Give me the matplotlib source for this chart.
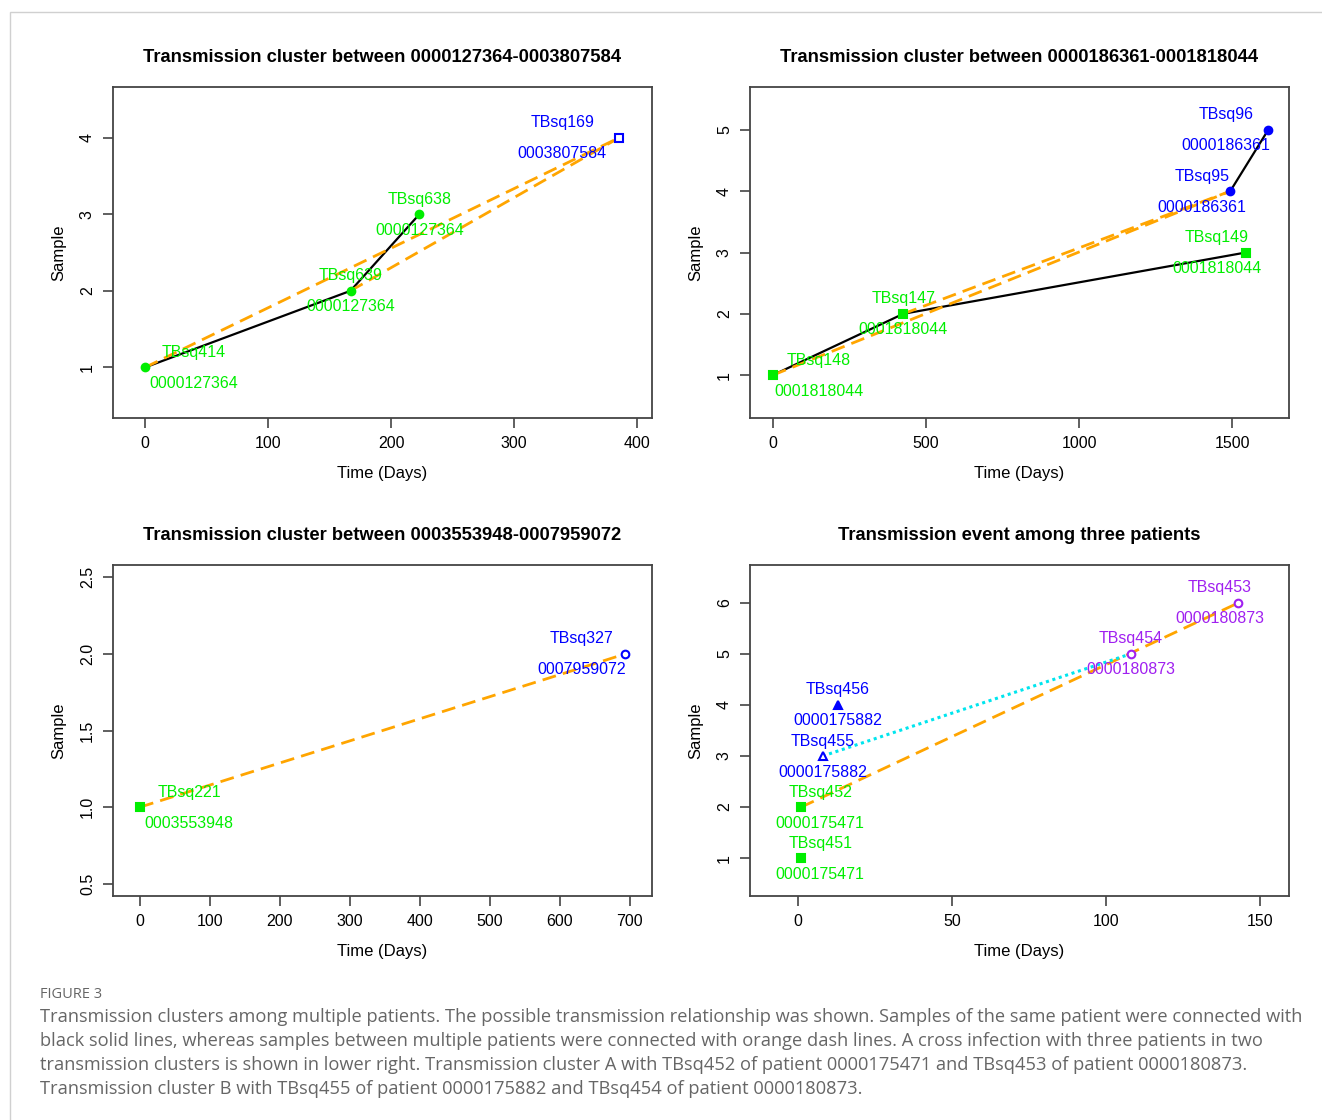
import matplotlib
matplotlib.use("Agg")
import matplotlib.pyplot as plt
from matplotlib.patches import Rectangle

plt.rcParams['font.family'] = ['Liberation Sans', 'DejaVu Sans']

# ---- data ----
# panel A: 0000127364 -> 0003807584
a_days = [0, 167, 223, 385.5]
a_sample = [1, 2, 3, 4]
a_names = ['TBsq414', 'TBsq639', 'TBsq638', 'TBsq169']
a_patients = ['0000127364', '0000127364', '0000127364', '0003807584']
a_solid = [(0, 1), (1, 2)]
a_dashed = [(0, 3), (1, 3)]

# panel B: 0000186361 -> 0001818044
b_days = [0, 426, 1545, 1494, 1618]
b_sample = [1, 2, 3, 4, 5]
b_names = ['TBsq148', 'TBsq147', 'TBsq149', 'TBsq95', 'TBsq96']
b_patients = ['0001818044', '0001818044', '0001818044', '0000186361', '0000186361']
b_solid = [(0, 1), (1, 2), (3, 4)]
b_dashed = [(0, 3), (1, 3)]

# panel C: 0003553948 -> 0007959072
c_days = [0, 694]
c_sample = [1, 2]
c_names = ['TBsq221', 'TBsq327']
c_patients = ['0003553948', '0007959072']
c_solid = []
c_dashed = [(0, 1)]

# panel D: three patients
d_days = [1, 1, 8, 13, 108, 143]
d_sample = [1, 2, 3, 4, 5, 6]
d_names = ['TBsq451', 'TBsq452', 'TBsq455', 'TBsq456', 'TBsq454', 'TBsq453']
d_patients = ['0000175471', '0000175471', '0000175882', '0000175882', '0000180873', '0000180873']
d_solid = []
d_dashed = [(1, 5)]
d_dotted = [(2, 4)]

titles = ['Transmission cluster between 0000127364-0003807584',
          'Transmission cluster between 0000186361-0001818044',
          'Transmission cluster between 0003553948-0007959072',
          'Transmission event among three patients']

caption_lines = [
    "Transmission clusters among multiple patients. The possible transmission relationship was shown. Samples of the same patient were connected with",
    "black solid lines, whereas samples between multiple patients were connected with orange dash lines. A cross infection with three patients in two",
    "transmission clusters is shown in lower right. Transmission cluster A with TBsq452 of patient 0000175471 and TBsq453 of patient 0000180873.",
    "Transmission cluster B with TBsq455 of patient 0000175882 and TBsq454 of patient 0000180873.",
]

GREEN = '#00ee00'
BLUE = '#0000ff'
PURPLE = '#a020f0'
ORANGE = '#ffa500'

# styling per point: (colour, marker, filled), label x shift in pixels
a_style = [(GREEN, 'o', True)] * 3 + [(BLUE, 's', False)]
a_shift = [49, 0, 0, -57]
b_style = [(GREEN, 's', True)] * 3 + [(BLUE, 'o', True)] * 2
b_shift = [46, 0, -29, -28, -42]
c_style = [(GREEN, 's', True), (BLUE, 'o', False)]
c_shift = [49, -44]
d_style = [(GREEN, 's', True), (GREEN, 's', True), (BLUE, '^', False), (BLUE, '^', True),
           (PURPLE, 'o', False), (PURPLE, 'o', False)]
d_shift = [19, 19, 0, 0, 0, -19]

fig = plt.figure(figsize=(13.22, 11.2), dpi=100)

W, H = 1322, 1120
def box(l, t, r, b):
    return [l / W, 1 - b / H, (r - l) / W, (b - t) / H]

panels = [
    (box(113, 87, 652, 418), a_days, a_sample, a_names, a_patients, a_solid, a_dashed, [], a_style, a_shift,
     (-26, 412), (0.34, 4.66), [0, 100, 200, 300, 400], [1, 2, 3, 4]),
    (box(750, 87, 1289, 418), b_days, b_sample, b_names, b_patients, b_solid, b_dashed, [], b_style, b_shift,
     (-75, 1686), (0.3, 5.7), [0, 500, 1000, 1500], [1, 2, 3, 4, 5]),
    (box(113, 565, 652, 896), c_days, c_sample, c_names, c_patients, c_solid, c_dashed, [], c_style, c_shift,
     (-38.6, 732), (0.42, 2.58), [0, 100, 200, 300, 400, 500, 600, 700], [0.5, 1.0, 1.5, 2.0, 2.5]),
    (box(750, 565, 1289, 896), d_days, d_sample, d_names, d_patients, d_solid, d_dashed, d_dotted, d_style, d_shift,
     (-15.6, 159.4), (0.26, 6.74), [0, 50, 100, 150], [1, 2, 3, 4, 5, 6]),
]

for i, (rect, xs, ys, names, pats, solid, dashed, dotted, style, shift, xl, yl, xt, yt) in enumerate(panels):
    ax = fig.add_axes(rect)
    for s in ax.spines.values():
        s.set_color('#444444')
        s.set_linewidth(1.3)
    for p, q in solid:
        ax.plot([xs[p], xs[q]], [ys[p], ys[q]], color='black', lw=1.6, zorder=2)
    for p, q in dashed:
        ax.plot([xs[p], xs[q]], [ys[p], ys[q]], color=ORANGE, lw=2, dashes=(5, 2.6), zorder=2)
    for p, q in dotted:
        ax.plot([xs[p], xs[q]], [ys[p], ys[q]], color='#00e5ee', lw=2.2, dashes=(1, 1.2), zorder=2)
    for j in range(len(xs)):
        col, mk, filled = style[j]
        ax.plot(xs[j], ys[j], marker=mk, ms=5.5, color=col,
                mfc=col if filled else 'white', mew=1.5, zorder=3, linestyle='none')
        ax.annotate(names[j], (xs[j], ys[j]), xytext=(shift[j], 15), textcoords='offset pixels',
                    ha='center', va='center', color=col, fontsize=11.5, zorder=4)
        ax.annotate(pats[j], (xs[j], ys[j]), xytext=(shift[j], -16), textcoords='offset pixels',
                    ha='center', va='center', color=col, fontsize=11.5, zorder=4)
    ax.set_xlim(*xl)
    ax.set_ylim(*yl)
    ax.set_xticks(xt)
    ax.set_yticks(yt)
    ax.set_yticklabels([('%g' % v) if i != 2 else ('%.1f' % v) for v in yt], rotation=90, va='center')
    ax.tick_params(direction='out', length=7, width=1.2, color='#444444', labelsize=11.5, pad=6)
    ax.set_xlabel('Time (Days)', fontsize=12, labelpad=11)
    ax.set_ylabel('Sample', fontsize=12, labelpad=10)
    ax.set_title(titles[i], fontsize=13.2, fontweight='bold', pad=18)

# outer frame and caption
fig.add_artist(Rectangle((10 / W, -0.01), 1.1, 1 - 12 / H + 0.01, transform=fig.transFigure,
                         fill=False, edgecolor='#d0d0d0', lw=1))
fig.text(40 / W, 1 - 995 / H, 'FIGURE 3', fontsize=10.5, color='#666666', va='center',
         family=['Open Sans', 'DejaVu Sans'])
for k, line in enumerate(caption_lines):
    fig.text(40 / W, 1 - (1017 + 24 * k) / H, line, fontsize=13.15, color='#666666', va='center',
             family=['Open Sans', 'DejaVu Sans'])

plt.savefig('out.png', dpi=100)
